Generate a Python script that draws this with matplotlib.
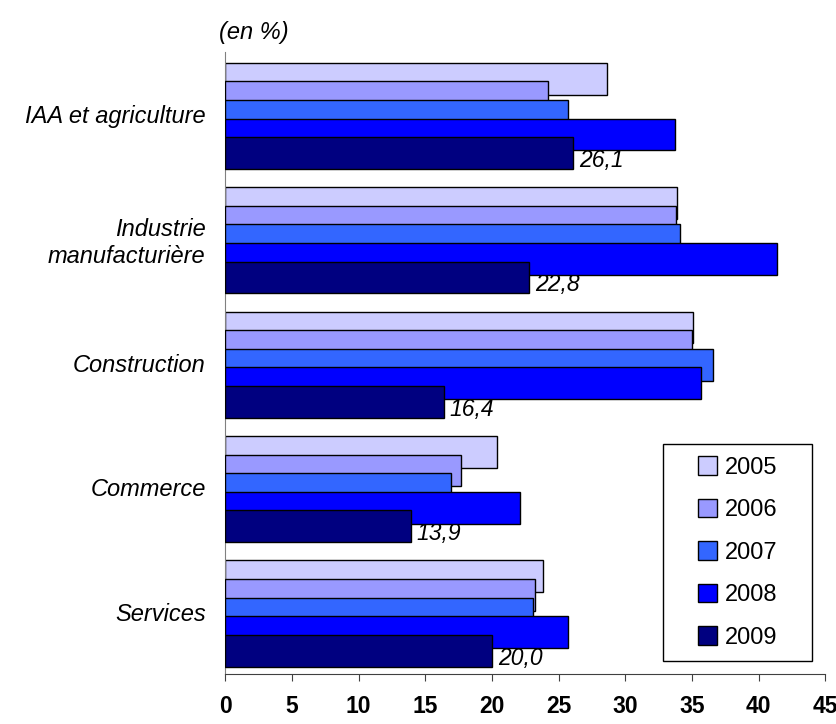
import matplotlib
matplotlib.use('Agg')
import matplotlib.pyplot as plt
from matplotlib.patches import Rectangle
import numpy as np

plt.rcParams['font.family'] = ['Liberation Sans', 'DejaVu Sans']

categories = ['IAA et agriculture', 'Industrie\nmanufacturière', 'Construction', 'Commerce', 'Services']
years = ['2005', '2006', '2007', '2008', '2009']
v2005 = [28.6, 33.9, 35.1, 20.4, 23.8]
v2006 = [24.2, 33.8, 35.0, 17.7, 23.2]
v2007 = [25.7, 34.1, 36.6, 16.9, 23.1]
v2008 = [33.7, 41.4, 35.7, 22.1, 25.7]
v2009 = [26.1, 22.8, 16.4, 13.9, 20.0]
labels2009 = ['26,1', '22,8', '16,4', '13,9', '20,0']
colors = ['#CCCCFF', '#9999FF', '#3366FF', '#0000FF', '#000080']

series = [v2005, v2006, v2007, v2008, v2009]

fig = plt.figure(figsize=(8.37, 7.24), dpi=100)
ax = fig.add_axes([0.269, 0.069, 0.717, 0.859])

y = np.arange(len(categories))
pitch = 0.1495
h = 0.255
for j, vals in enumerate(series):
    ax.barh(y + 0.013 + (j - 2) * pitch, vals, height=h, color=colors[j],
            edgecolor='black', linewidth=1.0, label=years[j], zorder=2 + j)

# labels on the 2009 bars
for i, v in enumerate(v2009):
    ax.text(v + 0.45, y[i] + 0.013 + 2 * pitch + 0.06, labels2009[i],
            style='italic', fontsize=16.5, va='center', ha='left')

ax.set_xlim(0, 45)
ax.set_ylim(4.5, -0.5)
ax.set_xticks(np.arange(0, 46, 5))
ax.set_yticks(y)
ax.set_yticklabels(categories, style='italic', fontsize=17)
ax.tick_params(axis='y', length=0, pad=14)
ax.tick_params(axis='x', length=5, direction='out', color='#404040',
               labelsize=16.5, pad=10)
for lab in ax.get_xticklabels():
    lab.set_fontweight('bold')

for s in ['top', 'right']:
    ax.spines[s].set_visible(False)
ax.spines['left'].set_color('#808080')
ax.spines['bottom'].set_color('#404040')

fig.text(0.262, 0.955, '(en %)', style='italic', fontsize=17, ha='left', va='center')

# legend box
ax.add_patch(Rectangle((0.73, 0.021), 0.248, 0.349, transform=ax.transAxes,
                       facecolor='white', edgecolor='black', linewidth=1.0,
                       zorder=10))
leg = ax.legend(loc='center', bbox_to_anchor=(0.854, 0.1955), fontsize=17,
                frameon=False, handlelength=0.82, handleheight=0.82,
                handletextpad=0.3, labelspacing=0.85, borderpad=0,
                borderaxespad=0)
leg.set_zorder(11)

fig.savefig('out.png', dpi=100)
